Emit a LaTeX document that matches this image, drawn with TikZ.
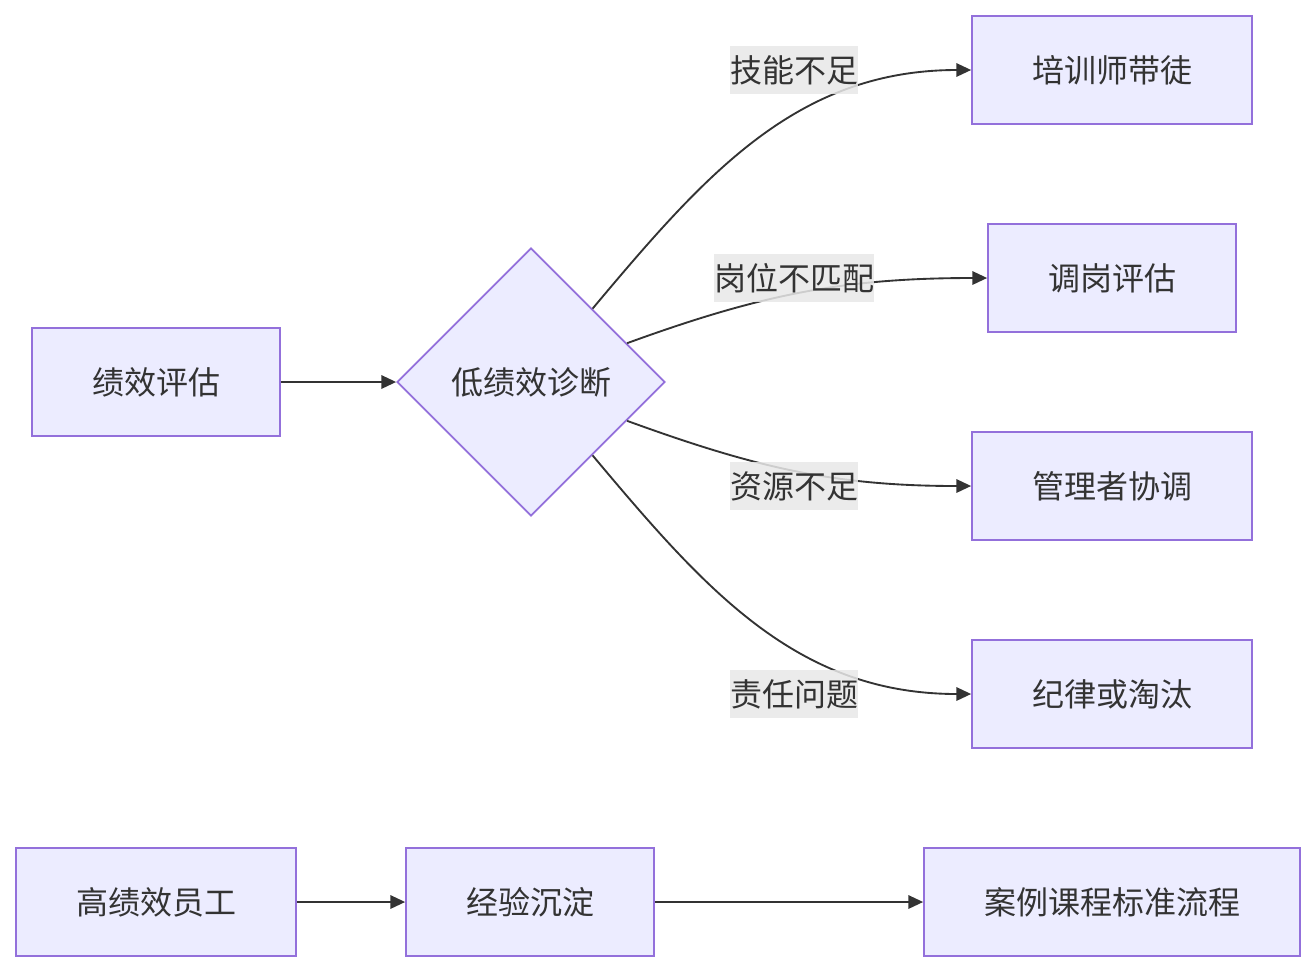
\documentclass[tikz,border=0pt]{standalone}
\usepackage{fontspec}
\setmainfont{Noto Sans CJK SC}
\usepackage{tikz}
\usetikzlibrary{shapes.geometric, arrows.meta}
\definecolor{boxfill}{RGB}{236,236,255}
\definecolor{boxline}{RGB}{147,112,219}
\definecolor{ink}{RGB}{51,51,51}
\definecolor{lblbg}{RGB}{232,232,232}

\begin{document}
\begin{tikzpicture}[x=0.75pt, y=-0.75pt,
    every node/.style={font=\fontsize{24}{28}\selectfont, text=ink},
    box/.style={rectangle, fill=boxfill, draw=boxline, line width=1.3pt,
                inner xsep=45pt, inner ysep=0pt, minimum height=81pt},
    decide/.style={diamond, fill=boxfill, draw=boxline, line width=1.3pt,
                   inner sep=0pt, minimum width=201pt, minimum height=201pt},
    lbl/.style={fill=lblbg, fill opacity=0.85, text opacity=1,
                inner xsep=0pt, inner ysep=0pt, minimum height=36pt},
    link/.style={draw=ink, line width=1.4pt,
                 -{Triangle[length=11pt, width=10pt]}}]
  \useasboundingbox (0,0) rectangle (1316,972);

  % main flow
  \node[box] (assess) at (156,382) {绩效评估};
  \node[decide] (diag) at (531,382) {低绩效诊断};

  \node[box] (coach)   at (1112,70)  {培训师带徒};
  \node[box] (move)    at (1112,278) {调岗评估};
  \node[box] (mgr)     at (1112,486) {管理者协调};
  \node[box] (discip)  at (1112,694) {纪律或淘汰};

  % high performers
  \node[box] (star)    at (156,902)  {高绩效员工};
  \node[box] (lesson)  at (530,902)  {经验沉淀};
  \node[box] (course)  at (1112,902) {案例课程标准流程};

  \draw[link] (assess) -- (diag);
  \draw[link] (diag.50)  to[out=50, in=180]  (coach.west);
  \draw[link] (diag.22)  to[out=20, in=180]  (move.west);
  \draw[link] (diag.-22) to[out=-20, in=180] (mgr.west);
  \draw[link] (diag.-50) to[out=-50, in=180] (discip.west);
  \draw[link] (star) -- (lesson);
  \draw[link] (lesson) -- (course);

  % edge labels
  \node[lbl] (l1) at (794,70)  {技能不足};
  \node[lbl] (l2) at (794,278) {岗位不匹配};
  \node[lbl] (l3) at (794,486) {资源不足};
  \node[lbl] (l4) at (794,694) {责任问题};
\end{tikzpicture}
\end{document}
